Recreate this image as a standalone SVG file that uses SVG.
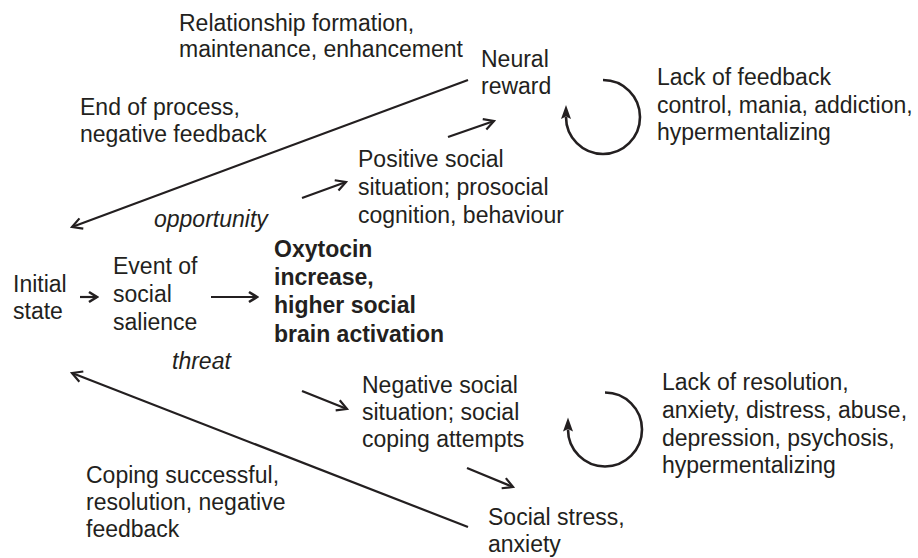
<svg xmlns="http://www.w3.org/2000/svg" width="918" height="558" viewBox="0 0 918 558">
<defs>
<style>
text{font-family:"Liberation Sans",Arial,Helvetica,sans-serif;font-size:23px;fill:#231f20}
.it{font-style:italic}
.b{font-weight:bold}
.c{fill:none;stroke:#231f20;stroke-width:2.2}
.loop{fill:none;stroke:#231f20;stroke-width:2.6}
</style>
<marker id="ah" viewBox="-12 -7 14 14" refX="0" refY="0" markerWidth="14" markerHeight="14" markerUnits="userSpaceOnUse" orient="auto">
<path d="M-10,-5.5 L0,0 L-10,5.5" fill="none" stroke="#231f20" stroke-width="2.2"/>
</marker>
<marker id="ahs" viewBox="-12 -7 14 14" refX="0" refY="0" markerWidth="14" markerHeight="14" markerUnits="userSpaceOnUse" orient="auto">
<path d="M-8,-5 L0,0 L-8,5" fill="none" stroke="#231f20" stroke-width="2.6"/>
</marker>
<marker id="lh" viewBox="-4 -7 18 14" refX="0" refY="0" markerWidth="18" markerHeight="14" markerUnits="userSpaceOnUse" orient="auto">
<path d="M12,0 L-2,-5 L0.5,0 L-2,5 Z" fill="#231f20"/>
</marker>
</defs>
<rect width="918" height="558" fill="#ffffff"/>
<g id="connectors">
<path class="c" d="M468,80 L72,227" marker-end="url(#ah)"/>
<path class="c" d="M468,527 L72,373" marker-end="url(#ah)"/>
<path class="c" d="M80,297 L97,297" marker-end="url(#ahs)"/>
<path class="c" d="M211,297 L257,297" marker-end="url(#ahs)"/>
<path class="c" d="M302,198 L346,182" marker-end="url(#ah)"/>
<path class="c" d="M448,137 L494,121" marker-end="url(#ah)"/>
<path class="c" d="M302,391 L347,409" marker-end="url(#ah)"/>
<path class="c" d="M467,468 L513,487" marker-end="url(#ah)"/>
<path class="loop" d="M603,80 A37,37 0 1 1 566,117" marker-end="url(#lh)"/>
<path class="loop" d="M605,392.5 A37,37 0 1 1 568,429.5" marker-end="url(#lh)"/>
</g>
<g id="relationship">
<text x="179" y="31">Relationship formation,</text>
<text x="179" y="57">maintenance, enhancement</text>
</g>
<g id="neural-reward">
<text x="481" y="67">Neural</text>
<text x="481" y="94">reward</text>
</g>
<g id="lack-feedback">
<text x="657" y="85">Lack of feedback</text>
<text x="657" y="113">control, mania, addiction,</text>
<text x="657" y="140">hypermentalizing</text>
</g>
<g id="end-process">
<text x="80" y="115">End of process,</text>
<text x="80" y="142">negative feedback</text>
</g>
<g id="positive">
<text x="358" y="167">Positive social</text>
<text x="358" y="195">situation; prosocial</text>
<text x="358" y="223">cognition, behaviour</text>
</g>
<g id="opportunity">
<text class="it" x="154" y="227">opportunity</text>
</g>
<g id="oxytocin">
<text class="b" x="274" y="257">Oxytocin</text>
<text class="b" x="274" y="285">increase,</text>
<text class="b" x="274" y="313">higher social</text>
<text class="b" x="274" y="342">brain activation</text>
</g>
<g id="initial">
<text x="13" y="292">Initial</text>
<text x="13" y="319">state</text>
</g>
<g id="event">
<text x="113" y="274">Event of</text>
<text x="113" y="302">social</text>
<text x="113" y="330">salience</text>
</g>
<g id="threat">
<text class="it" x="172" y="369">threat</text>
</g>
<g id="negative">
<text x="362" y="393">Negative social</text>
<text x="362" y="420">situation; social</text>
<text x="362" y="447">coping attempts</text>
</g>
<g id="lack-resolution">
<text x="662" y="390">Lack of resolution,</text>
<text x="662" y="418">anxiety, distress, abuse,</text>
<text x="662" y="446">depression, psychosis,</text>
<text x="662" y="473">hypermentalizing</text>
</g>
<g id="coping">
<text x="86" y="483">Coping successful,</text>
<text x="86" y="510">resolution, negative</text>
<text x="86" y="537">feedback</text>
</g>
<g id="stress">
<text x="488" y="525">Social stress,</text>
<text x="488" y="552">anxiety</text>
</g>
</svg>
